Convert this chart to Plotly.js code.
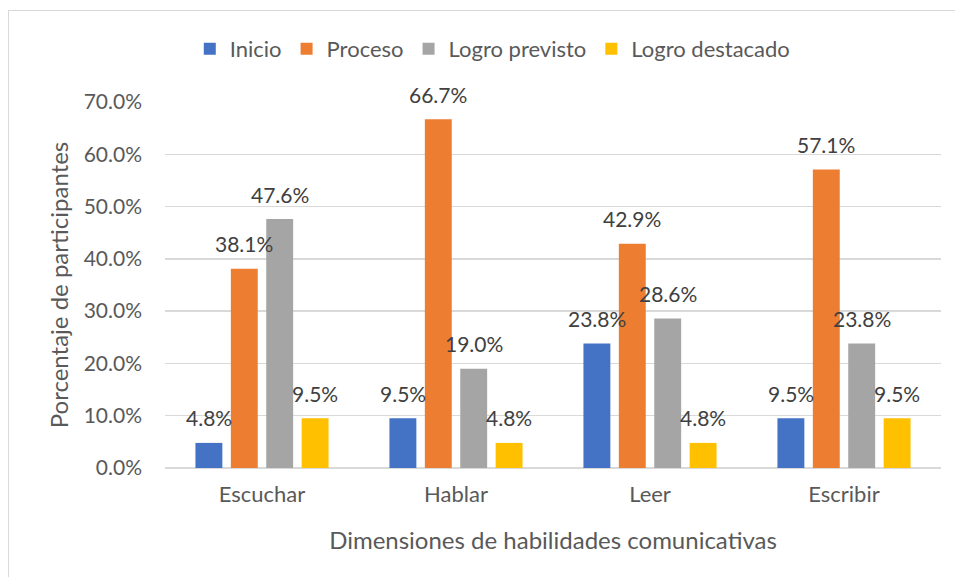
<!DOCTYPE html>
<html>
<head>
<meta charset="utf-8">
<script src="https://cdn.plot.ly/plotly-3.0.1.min.js"></script>
<style>
html,body{margin:0;padding:0;background:#fff;overflow:hidden;}
#chart{position:absolute;left:0;top:0;width:955px;height:577px;}
#frame{position:absolute;left:8px;top:10px;width:960px;height:600px;border:1.5px solid #d9d9d9;pointer-events:none;}
</style>
</head>
<body>
<div id="chart"></div>
<div id="frame"></div>
<script>
const categories = ["Escuchar", "Hablar", "Leer", "Escribir"];
const seriesNames = ["Inicio", "Proceso", "Logro previsto", "Logro destacado"];
const inicio = [0.048, 0.095, 0.238, 0.095];
const proceso = [0.381, 0.667, 0.429, 0.571];
const logroPrevisto = [0.476, 0.190, 0.286, 0.238];
const logroDestacado = [0.095, 0.048, 0.048, 0.095];
const colors = ["#4472C4", "#ED7D31", "#A5A5A5", "#FFC000"];

const FONT = "Lato, 'Open Sans', sans-serif";
const allSeries = [inicio, proceso, logroPrevisto, logroDestacado];
const bargap = 0.27;

const traces = allSeries.map((vals, i) => ({
  type: "bar",
  name: seriesNames[i],
  x: categories,
  y: vals,
  marker: {color: colors[i]},
  hoverinfo: "skip"
}));

const n = allSeries.length;
const slot = (1 - bargap) / n;
const annotations = [];
allSeries.forEach((vals, i) => {
  vals.forEach((v, j) => {
    annotations.push({
      xref: "x", yref: "y",
      x: j - (1 - bargap) / 2 + (i + 0.5) * slot,
      y: v,
      text: (v * 100).toFixed(1) + "%",
      showarrow: false,
      yanchor: "middle",
      yshift: 25,
      font: {family: FONT, size: 21, color: "#404040"}
    });
  });
});

const layout = {
  width: 955, height: 577,
  margin: {l: 165, r: 14, t: 102, b: 109},
  paper_bgcolor: "rgba(0,0,0,0)",
  plot_bgcolor: "#fff",
  barmode: "group",
  bargap: bargap,
  bargroupgap: 0.24,
  font: {family: FONT, color: "#595959", size: 21},
  showlegend: true,
  legend: {
    orientation: "h",
    xref: "container", yref: "container",
    x: 0.516, xanchor: "center",
    y: 1 - 49 / 577, yanchor: "middle",
    font: {family: FONT, size: 22, color: "#595959"},
    itemwidth: 30,
    traceorder: "normal"
  },
  xaxis: {
    type: "category",
    showgrid: false,
    showline: false,
    zeroline: false,
    ticks: "",
    ticklabelstandoff: 11,
    tickfont: {family: FONT, size: 22, color: "#595959"},
    title: {text: "Dimensiones de habilidades comunicativas", standoff: 26,
            font: {family: FONT, size: 24, color: "#595959"}}
  },
  yaxis: {
    range: [0, 0.7],
    dtick: 0.1,
    tickformat: ".1%",
    showgrid: true,
    gridcolor: "#d9d9d9",
    gridwidth: 1.5,
    zeroline: true,
    zerolinecolor: "#d9d9d9",
    zerolinewidth: 1.5,
    showline: false,
    ticks: "",
    ticklabelstandoff: 22,
    tickfont: {family: FONT, size: 21, color: "#595959"},
    title: {text: "Porcentaje de participantes", standoff: 8,
            font: {family: FONT, size: 24, color: "#595959"}}
  },
  annotations: annotations
};

Plotly.newPlot("chart", traces, layout, {displayModeBar: false, staticPlot: true});
</script>
</body>
</html>
